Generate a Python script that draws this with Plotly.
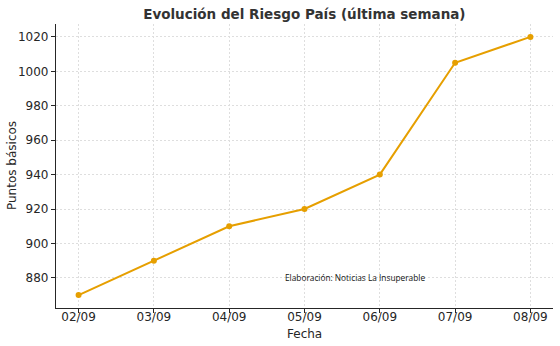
import plotly.graph_objects as go

fechas = ["02/09", "03/09", "04/09", "05/09", "06/09", "07/09", "08/09"]
valores = [870, 890, 910, 920, 940, 1005, 1020]
y_ticks = [880, 900, 920, 940, 960, 980, 1000, 1020]

x_idx = list(range(len(fechas)))

fig = go.Figure()
fig.add_trace(go.Scatter(
    x=x_idx, y=valores, mode="lines+markers",
    line=dict(color="#E69F00", width=2),
    marker=dict(color="#E69F00", size=6),
))

axis_common = dict(
    showline=True, linecolor="#262626", linewidth=1.2, mirror=False,
    ticks="outside", ticklen=4, tickcolor="#262626",
    showgrid=True, gridcolor="#dedede", griddash="2px,2px", gridwidth=0.8,
    zeroline=False, automargin=False,
    tickfont=dict(family="DejaVu Sans", size=12, color="#262626"),
)

fig.update_layout(
    width=560, height=346,
    margin=dict(l=56, r=7, t=24, b=38),
    paper_bgcolor="white", plot_bgcolor="white",
    showlegend=False,
    title=dict(text="<b>Evolución del Riesgo País (última semana)</b>",
               x=0.5435, xanchor="center", y=0.96, yanchor="middle",
               font=dict(family="DejaVu Sans", size=13.5, color="#333333")),
    xaxis=dict(**axis_common, tickmode="array", tickvals=x_idx, ticktext=fechas,
               range=[-0.3, 6.3], ticklabelstandoff=-7),
    yaxis=dict(**axis_common, tickmode="array", tickvals=y_ticks,
               range=[862.5, 1027.5]),
)

fig.add_annotation(
    x=0.5, y=-0.06, xref="paper", yref="paper", xanchor="center", yanchor="top",
    text="Fecha", showarrow=False,
    font=dict(family="DejaVu Sans", size=12, color="#262626"),
)
fig.add_annotation(
    x=-0.0885, y=0.5, xref="paper", yref="paper", xanchor="center", yanchor="middle",
    text="Puntos básicos", showarrow=False, textangle=-90,
    font=dict(family="DejaVu Sans", size=12, color="#262626"),
)

fig.add_annotation(
    x=3.0, y=880, xref="x", yref="y", xanchor="center", yanchor="middle",
    text="Elaboración: Noticias La Insuperable", showarrow=False,
    xshift=50,
    font=dict(family="Open Sans", size=8.3, color="#111111"),
)

fig.write_html("out.html")
